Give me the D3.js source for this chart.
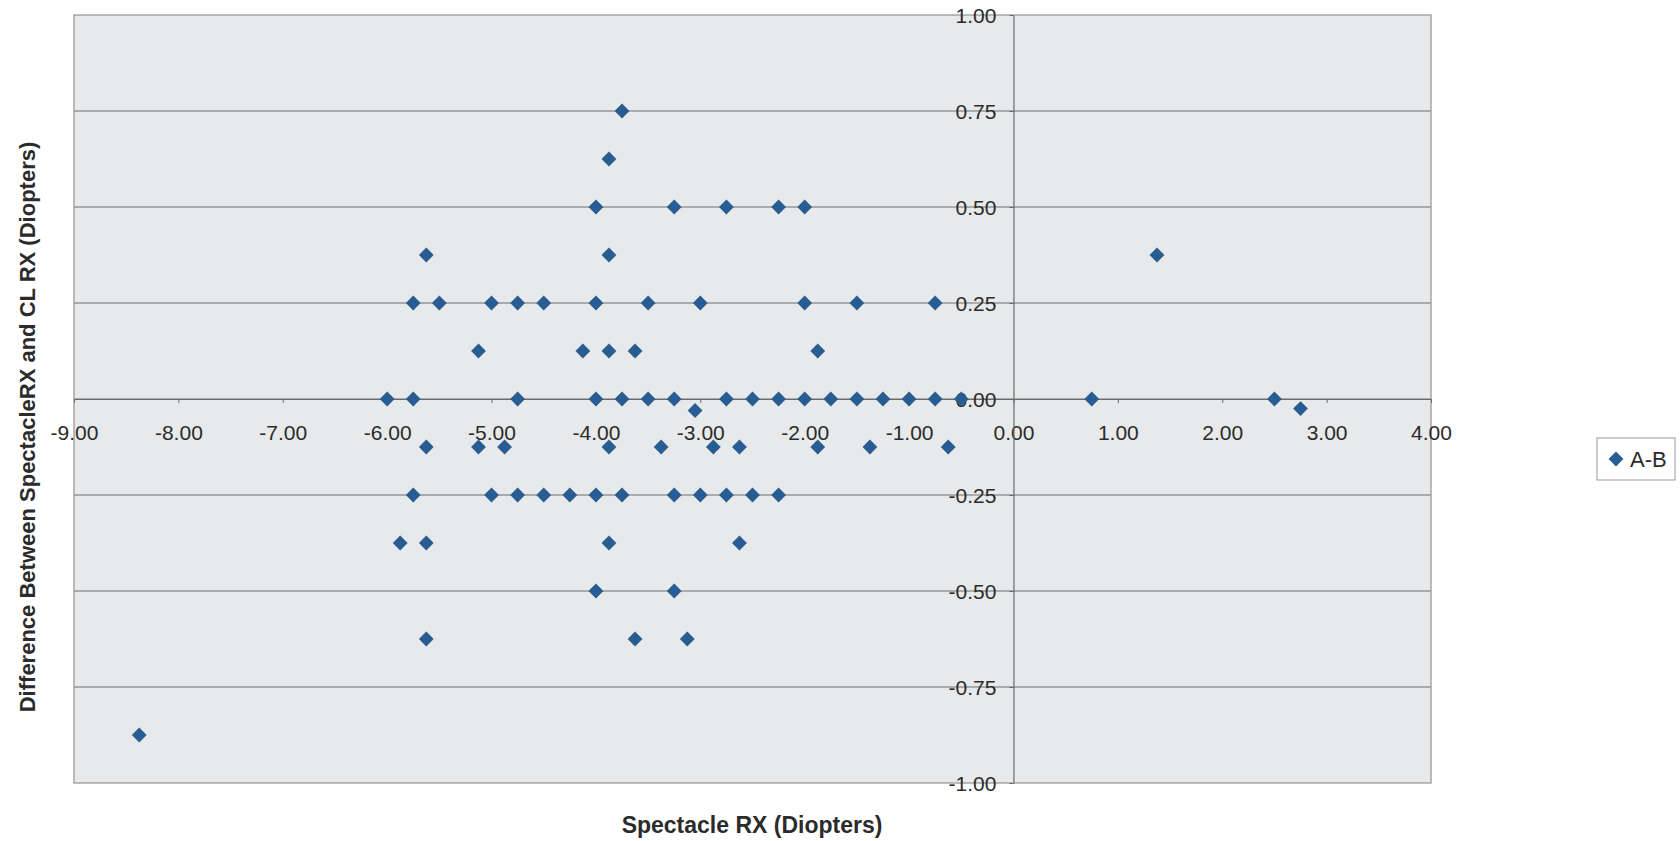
<!DOCTYPE html>
<html><head><meta charset="utf-8">
<script src="https://cdn.jsdelivr.net/npm/d3@7"></script>
<style>body{margin:0;background:#fff}svg{display:block}</style>
</head><body>
<svg id="c" width="1680" height="841"></svg>
<script>
const seriesName = "A-B";
// Spectacle RX (x) and difference A-B (y), one entry per point
const spectacleRx = [
  -3.75,
  -3.875,
  -4, -3.25, -2.75, -2.25, -2,
  -5.625, -3.875, 1.375,
  -5.75, -5.5, -5.0, -4.75, -4.5, -4.0, -3.5, -3.0, -2.0, -1.5, -0.75,
  -5.125, -4.125, -3.875, -3.625, -1.875,
  -6.0, -5.75, -4.75, -4.0, -3.75, -3.5, -3.25, -2.75, -2.5, -2.25, -2.0, -1.75, -1.5, -1.25, -1.0, -0.75, -0.5, 0.75, 2.5,
  -3.05, 2.75,
  -5.625, -5.125, -4.875, -3.875, -3.375, -2.875, -2.625, -1.875, -1.375, -0.625,
  -5.75, -5.0, -4.75, -4.5, -4.25, -4.0, -3.75, -3.25, -3.0, -2.75, -2.5, -2.25,
  -5.875, -5.625, -3.875, -2.625,
  -4.0, -3.25,
  -5.625, -3.625, -3.125,
  -8.375
];
const difference = [
  0.75,
  0.625,
  0.5, 0.5, 0.5, 0.5, 0.5,
  0.375, 0.375, 0.375,
  0.25, 0.25, 0.25, 0.25, 0.25, 0.25, 0.25, 0.25, 0.25, 0.25, 0.25,
  0.125, 0.125, 0.125, 0.125, 0.125,
  0, 0, 0, 0, 0, 0, 0, 0, 0, 0, 0, 0, 0, 0, 0, 0, 0, 0, 0,
  -0.03, -0.025,
  -0.125, -0.125, -0.125, -0.125, -0.125, -0.125, -0.125, -0.125, -0.125, -0.125,
  -0.25, -0.25, -0.25, -0.25, -0.25, -0.25, -0.25, -0.25, -0.25, -0.25, -0.25, -0.25,
  -0.375, -0.375, -0.375, -0.375,
  -0.5, -0.5,
  -0.625, -0.625, -0.625,
  -0.875
];
const xTickValues = [-9, -8, -7, -6, -5, -4, -3, -2, -1, 0, 1, 2, 3, 4];
const yTickValues = [-1, -0.75, -0.5, -0.25, 0, 0.25, 0.5, 0.75, 1];
const xTitle = "Spectacle RX (Diopters)";
const yTitle = "Difference Between SpectacleRX and CL RX (Diopters)";

const FONT = "'Liberation Sans', Arial, Helvetica, sans-serif";
const TXT = "#2b2b2b";
const svg = d3.select("#c");
const plot = {left: 74, right: 1431, top: 15, bottom: 783};
const x = d3.scaleLinear().domain([-9, 4]).range([plot.left, plot.right]);
const y = d3.scaleLinear().domain([-1, 1]).range([plot.bottom, plot.top]);
const fmt = d => d.toFixed(2);

// plot background
svg.append("rect")
  .attr("x", plot.left).attr("y", plot.top)
  .attr("width", plot.right - plot.left).attr("height", plot.bottom - plot.top)
  .attr("fill", "#e7e9ea");

// horizontal gridlines
svg.append("g").selectAll("line")
  .data(yTickValues.filter(v => Math.abs(v) < 1))
  .join("line")
  .attr("x1", plot.left).attr("x2", plot.right)
  .attr("y1", d => y(d)).attr("y2", d => y(d))
  .attr("stroke", "#6f6f6f").attr("stroke-width", 1.2);

// plot border
svg.append("rect")
  .attr("x", plot.left).attr("y", plot.top)
  .attr("width", plot.right - plot.left).attr("height", plot.bottom - plot.top)
  .attr("fill", "none").attr("stroke", "#9a9a9a").attr("stroke-width", 1.3);

// x axis along y=0
const gx = svg.append("g").attr("transform", `translate(0,${y(0)})`)
  .call(d3.axisBottom(x).tickValues(xTickValues).tickFormat(fmt)
    .tickSizeInner(4).tickSizeOuter(0).tickPadding(22));
// y axis along x=0
const gy = svg.append("g").attr("transform", `translate(${x(0)},0)`)
  .call(d3.axisLeft(y).tickValues(yTickValues).tickFormat(fmt)
    .tickSizeInner(4).tickSizeOuter(0).tickPadding(13));
[gx, gy].forEach(g => {
  g.attr("font-family", FONT).attr("font-size", 21);
  g.select(".domain").attr("stroke", "#6a6a6a").attr("stroke-width", 1.2);
  g.selectAll(".tick line").attr("stroke", "#6a6a6a");
  g.selectAll(".tick text").attr("fill", TXT);
});
gy.selectAll(".tick text").attr("dy", "0.36em");

// markers
const pts = spectacleRx.map((v, i) => ({x: v, y: difference[i]}));
const diamond = d3.symbol().type(d3.symbolSquare).size(110);
svg.append("g").selectAll("path").data(pts).join("path")
  .attr("d", diamond)
  .attr("transform", d => `translate(${x(d.x)},${y(d.y)}) rotate(45)`)
  .attr("fill", "#275d92");

// axis titles
svg.append("text")
  .attr("x", 752).attr("y", 833)
  .attr("text-anchor", "middle")
  .attr("font-family", FONT).attr("font-weight", "bold").attr("font-size", 23)
  .attr("fill", TXT).text(xTitle);
svg.append("text")
  .attr("transform", "translate(35,427) rotate(-90)")
  .attr("text-anchor", "middle")
  .attr("font-family", FONT).attr("font-weight", "bold").attr("font-size", 22)
  .attr("fill", TXT).text(yTitle);

// legend
const lg = svg.append("g").attr("transform", "translate(1597,438)");
lg.append("rect").attr("width", 78).attr("height", 42)
  .attr("fill", "#fff").attr("stroke", "#9a9a9a").attr("stroke-width", 1);
lg.append("path").attr("d", diamond)
  .attr("transform", "translate(19,21) rotate(45)").attr("fill", "#275d92");
lg.append("text").attr("x", 33).attr("y", 21).attr("dy", "0.36em")
  .attr("font-family", FONT).attr("font-size", 22).attr("fill", TXT).text(seriesName);
</script>
</body></html>
